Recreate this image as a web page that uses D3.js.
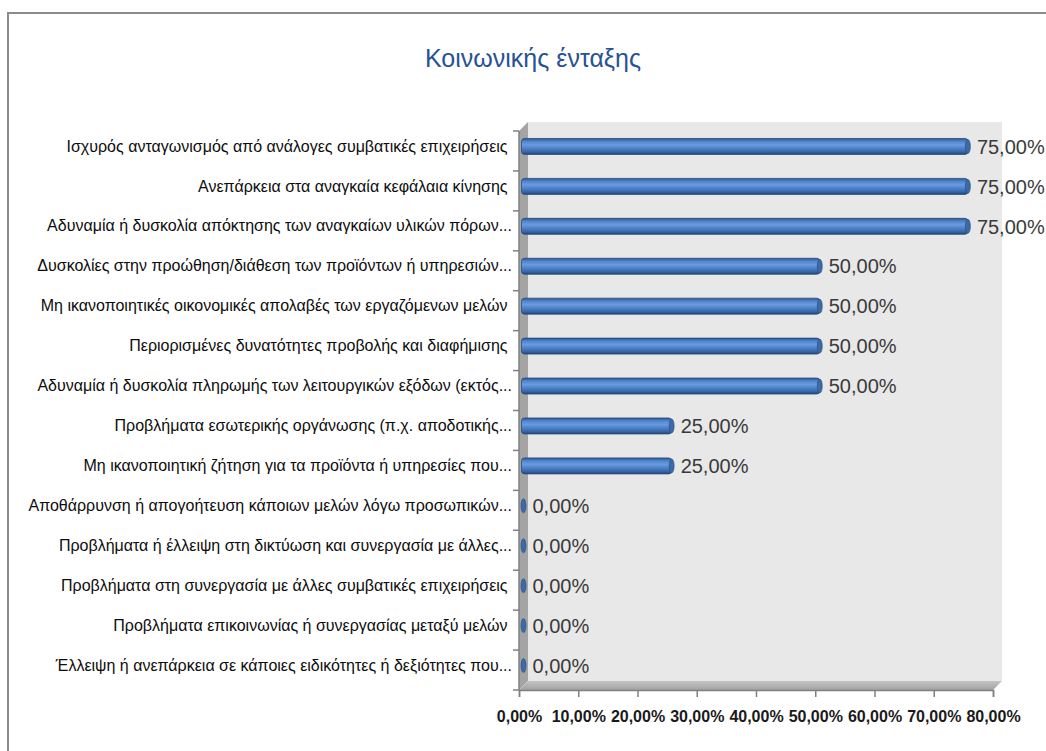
<!DOCTYPE html>
<html>
<head>
<meta charset="utf-8">
<script src="https://cdn.jsdelivr.net/npm/d3@7"></script>
<style>
  body { margin: 0; background: #fff; }
  svg text { font-family: "Liberation Sans", Arial, sans-serif; }
  .cat text { white-space: pre; }
</style>
</head>
<body>
<div id="chart"></div>
<script>
// data
const categories = [
  'Ισχυρός ανταγωνισμός από ανάλογες συμβατικές επιχειρήσεις ',
  'Ανεπάρκεια στα αναγκαία κεφάλαια κίνησης ',
  'Αδυναμία ή δυσκολία απόκτησης των αναγκαίων υλικών πόρων...',
  'Δυσκολίες στην προώθηση/διάθεση των προϊόντων ή υπηρεσιών...',
  'Μη ικανοποιητικές οικονομικές απολαβές των εργαζόμενων μελών ',
  'Περιορισμένες δυνατότητες προβολής και διαφήμισης ',
  'Αδυναμία ή δυσκολία πληρωμής των λειτουργικών εξόδων (εκτός...',
  'Προβλήματα εσωτερικής οργάνωσης (π.χ. αποδοτικής...',
  'Μη ικανοποιητική ζήτηση για τα προϊόντα ή υπηρεσίες που...',
  'Αποθάρρυνση ή απογοήτευση κάποιων μελών λόγω προσωπικών...',
  'Προβλήματα ή έλλειψη στη δικτύωση και συνεργασία με άλλες...',
  'Προβλήματα στη συνεργασία με άλλες συμβατικές επιχειρήσεις ',
  'Προβλήματα επικοινωνίας ή συνεργασίας μεταξύ μελών ',
  'Έλλειψη ή ανεπάρκεια σε κάποιες ειδικότητες ή δεξιότητες που...'
];
const values = [0.75, 0.75, 0.75, 0.5, 0.5, 0.5, 0.5, 0.25, 0.25, 0, 0, 0, 0, 0];
const xTicks = [0, 0.1, 0.2, 0.3, 0.4, 0.5, 0.6, 0.7, 0.8];
const title = 'Κοινωνικής ένταξης';

const W = 1046, H = 751;
const depth = 9;
const locale = d3.formatLocale({ decimal: ',', thousands: '.', grouping: [3], currency: ['', '€'] });
const pct = locale.format('.2%');

const svg = d3.select('#chart').append('svg')
  .attr('width', W)
  .attr('height', H);

// chart border
svg.append('path')
  .attr('d', `M8,${H} V13 H${W}`)
  .attr('fill', 'none')
  .attr('stroke', '#8c8c8c')
  .attr('stroke-width', 2);

svg.append('text')
  .attr('x', 533)
  .attr('y', 67)
  .attr('text-anchor', 'middle')
  .style('font-size', '25px')
  .style('fill', '#285294')
  .text(title);

const x = d3.scaleLinear().domain([0, 0.8]).range([519, 993]);
const y = d3.scaleBand().domain(categories).range([131, 690]).padding(0);
const x0 = x(0), x1 = x(0.8), y0 = y.range()[0], y1 = y.range()[1];

// 3D walls
svg.append('rect')
  .attr('x', x0 + depth)
  .attr('y', y0 - depth)
  .attr('width', x1 - x0)
  .attr('height', y1 - y0)
  .attr('fill', '#e8e8e8');

svg.append('polygon')
  .attr('points', [[x0, y0], [x0 + depth, y0 - depth], [x0 + depth, y1 - depth], [x0, y1]].join(' '))
  .attr('fill', '#a4a4a4');

const defs = svg.append('defs');
const floorGrad = defs.append('linearGradient')
  .attr('id', 'floor').attr('x1', 0).attr('y1', 0).attr('x2', 0).attr('y2', 1);
floorGrad.append('stop').attr('offset', '0%').attr('stop-color', '#c4c4c4');
floorGrad.append('stop').attr('offset', '100%').attr('stop-color', '#a2a2a2');

svg.append('polygon')
  .attr('points', [[x0, y1], [x0 + depth, y1 - depth], [x1 + depth, y1 - depth], [x1, y1]].join(' '))
  .attr('fill', 'url(#floor)');

// bar gradient (cylinder look)
const barGrad = defs.append('linearGradient')
  .attr('id', 'bar').attr('x1', 0).attr('y1', 0).attr('x2', 0).attr('y2', 1);
[['0%', '#2c5488'], ['18%', '#4f84cc'], ['40%', '#6a9be0'], ['65%', '#4a7ec4'], ['85%', '#3565a6'], ['100%', '#22436f']]
  .forEach(s => barGrad.append('stop').attr('offset', s[0]).attr('stop-color', s[1]));

// axes
svg.append('g')
  .attr('class', 'axis')
  .attr('transform', `translate(0,${y1})`)
  .call(d3.axisBottom(x).tickValues(xTicks).tickFormat(pct).tickSize(7).tickPadding(14))
  .call(g => g.select('.domain').attr('stroke', '#808080').attr('stroke-width', 1.5))
  .call(g => g.selectAll('.tick line').attr('stroke', '#808080').attr('stroke-width', 1.5))
  .call(g => g.selectAll('.tick text')
    .style('font-size', '16px')
    .style('font-weight', 'bold')
    .style('fill', '#1a1a1a'));

svg.append('line')
  .attr('x1', x0).attr('x2', x0)
  .attr('y1', y0).attr('y2', y1)
  .attr('stroke', '#808080')
  .attr('stroke-width', 1.5);

const bounds = categories.map(c => y(c)).concat([y1]);
svg.append('g')
  .selectAll('line')
  .data(bounds)
  .enter()
  .append('line')
  .attr('x1', x0 - 6).attr('x2', x0)
  .attr('y1', d => d).attr('y2', d => d)
  .attr('stroke', '#808080')
  .attr('stroke-width', 1.5);

svg.append('g')
  .attr('class', 'cat')
  .attr('transform', `translate(${x0},${-depth / 2})`)
  .call(d3.axisLeft(y).tickSize(0).tickPadding(7))
  .call(g => g.select('.domain').remove())
  .call(g => g.selectAll('.tick text')
    .style('font-size', '16px')
    .style('fill', '#0d0d0d'));

// bars at mid depth
const barH = 16;
const mid = d => y(d) + y.bandwidth() / 2 - depth / 2;
const bx = x0 + depth / 2;

const bars = svg.append('g')
  .selectAll('g')
  .data(categories.map((c, i) => ({ cat: c, value: values[i] })))
  .enter()
  .append('g');

bars.filter(d => d.value > 0)
  .append('rect')
  .attr('x', bx - 2)
  .attr('y', d => mid(d.cat) - barH / 2)
  .attr('width', d => x(d.value) - x0 + 2)
  .attr('height', barH)
  .attr('rx', 3)
  .attr('fill', 'url(#bar)')
  .attr('stroke', '#2a4d7c')
  .attr('stroke-width', 0.8);

bars.append('ellipse')
  .attr('cx', d => bx + x(d.value) - x0)
  .attr('cy', d => mid(d.cat))
  .attr('rx', 2.5)
  .attr('ry', barH / 2 - 1)
  .attr('fill', '#3a6aa8')
  .attr('stroke', '#2a4d7c')
  .attr('stroke-width', 0.6);

bars.append('text')
  .attr('x', d => bx + x(d.value) - x0 + 9)
  .attr('y', d => mid(d.cat))
  .attr('dy', '0.36em')
  .style('font-size', '20px')
  .style('fill', '#3a3a3a')
  .text(d => pct(d.value));
</script>
</body>
</html>
